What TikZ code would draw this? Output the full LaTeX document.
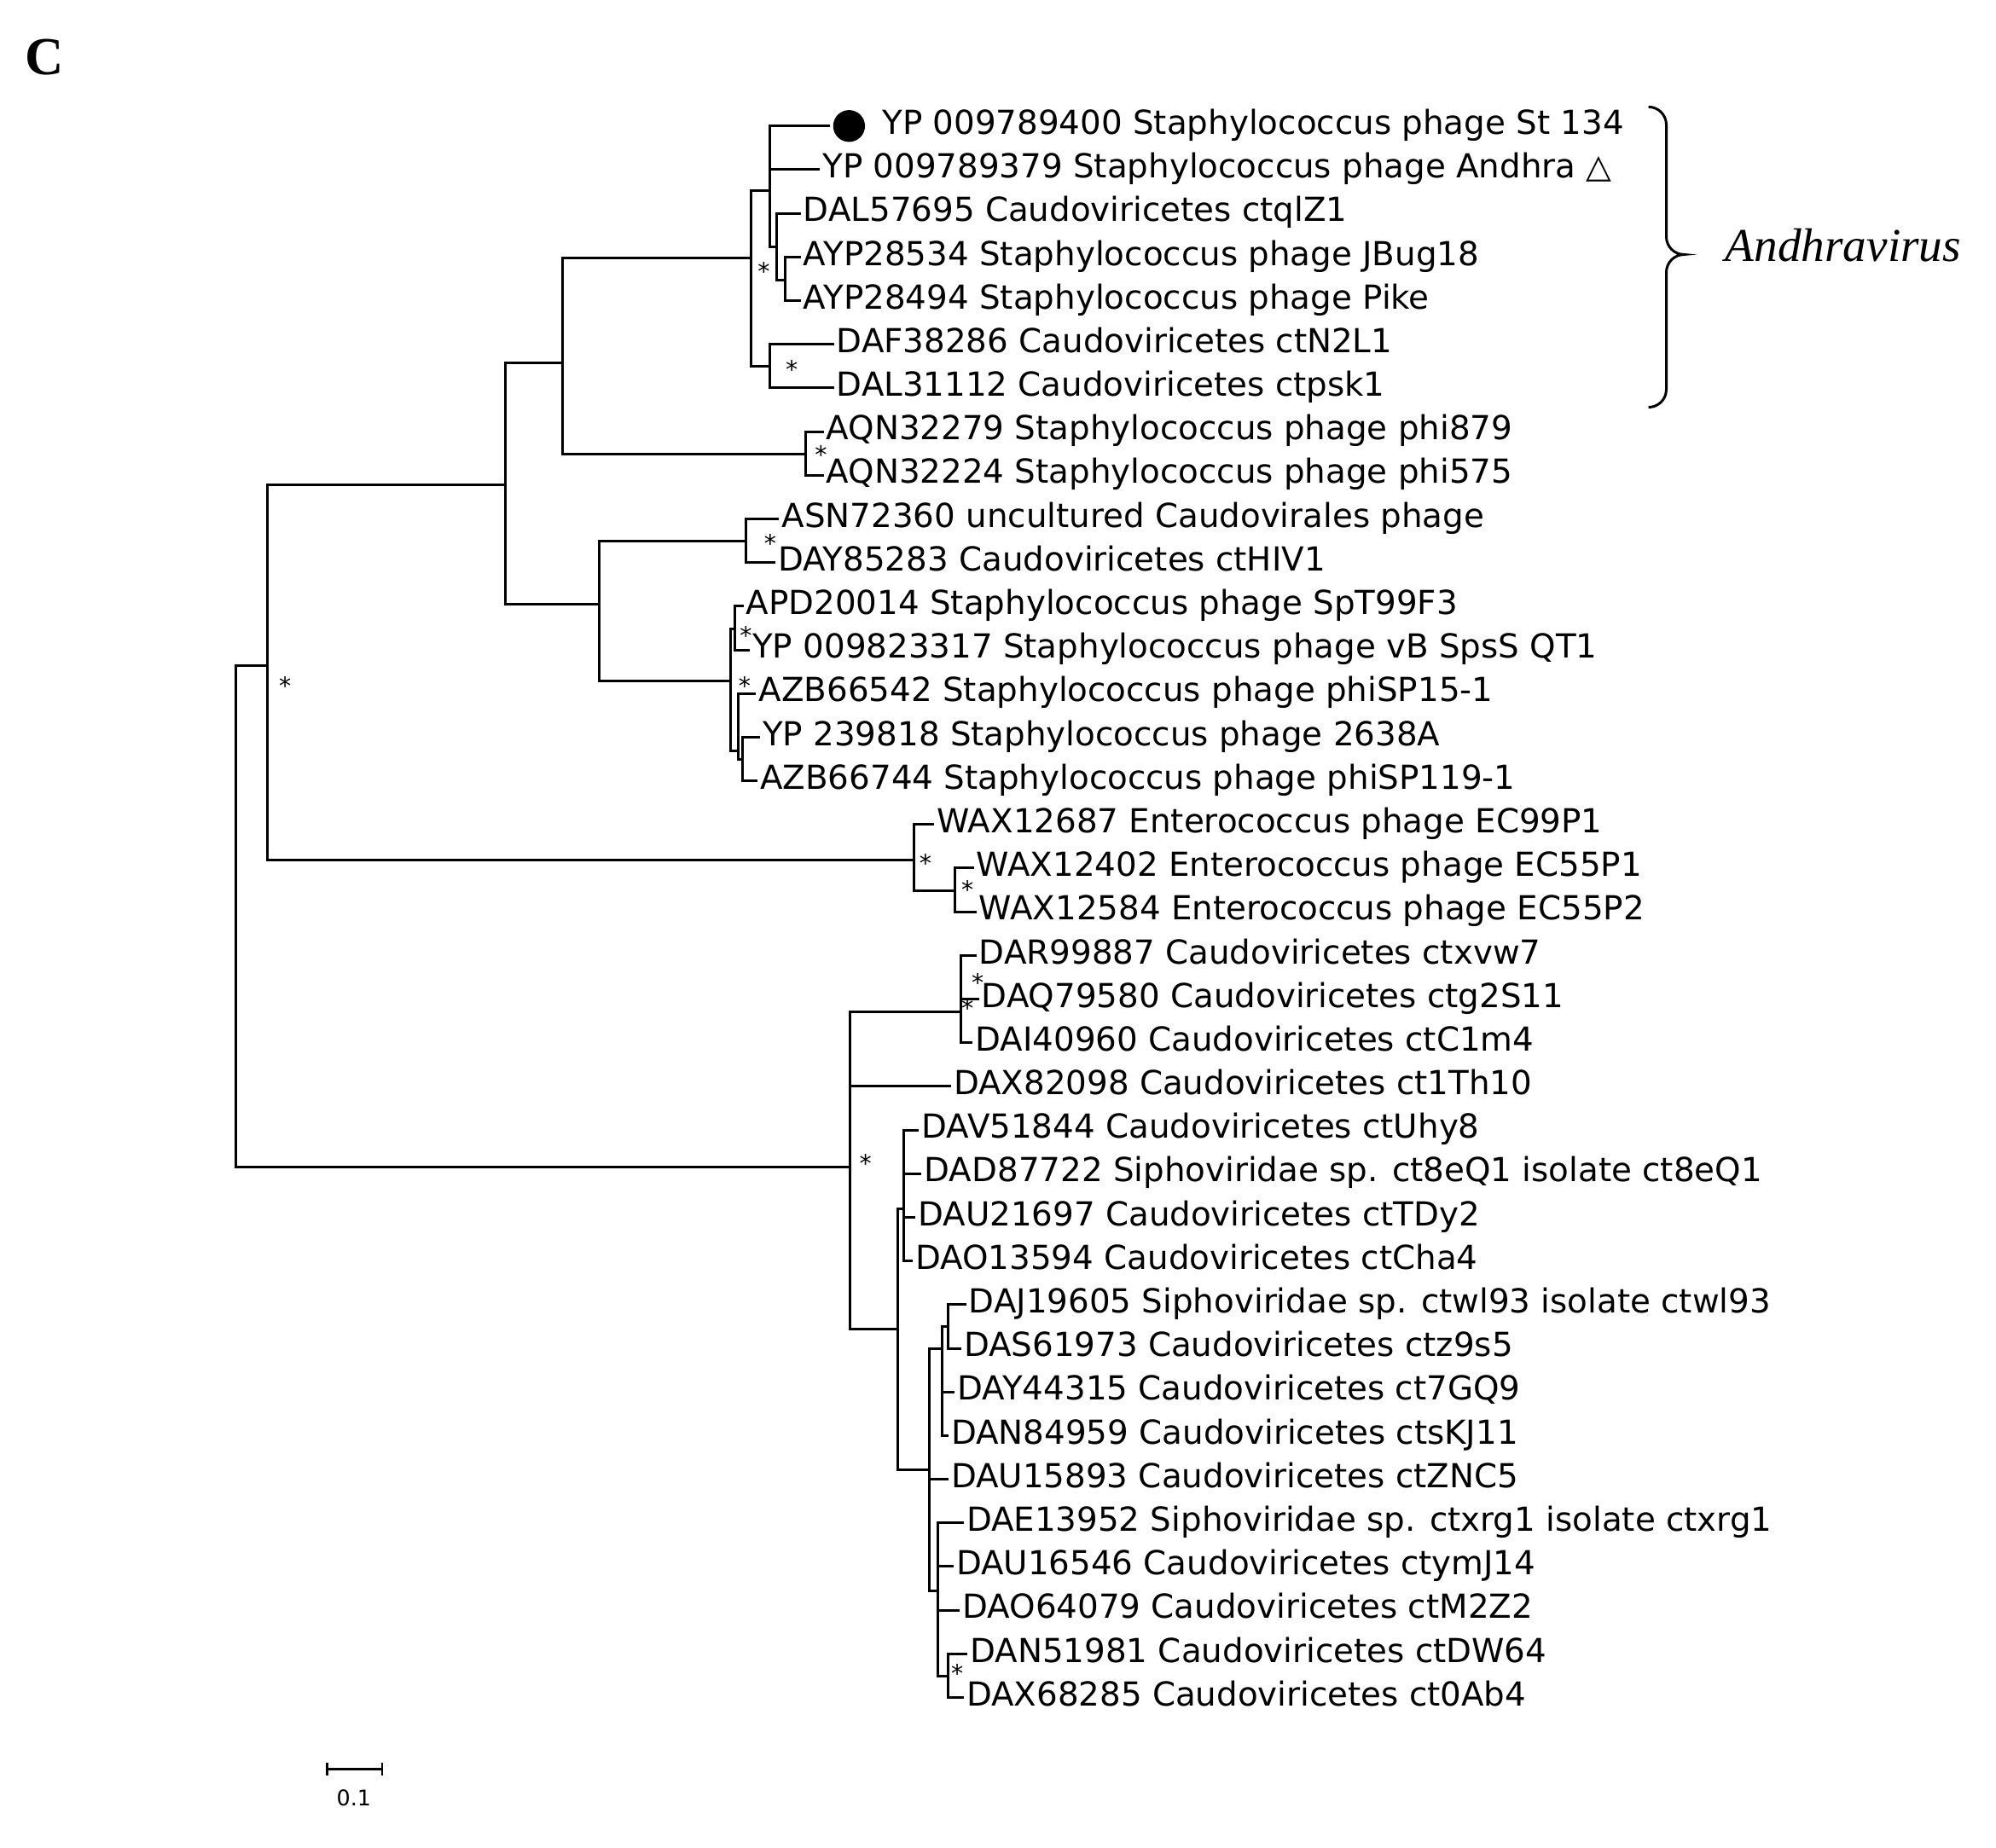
\documentclass[tikz,border=0pt]{standalone}
\usepackage{fontspec}
\setmainfont{DejaVu Sans}
\newfontfamily\serifit{Liberation Serif}
\begin{document}
\begin{tikzpicture}[x=1pt,y=-1pt,
  br/.style={line width=2pt,line cap=rect},
  leaf/.style={anchor=west,inner sep=3pt,text height=1.3em,text depth=0em,font=\fontsize{26}{26}\selectfont},
  st/.style={font=\fontsize{19}{19}\selectfont,inner sep=0pt}]
\useasboundingbox[fill=white] (0,0) rectangle (1568,1452);
\node[font=\serifit\bfseries\fontsize{42}{42}\selectfont] (lblC) at (35,45) {C};
\foreach \i/\x/\t in {
0/690/YP 009789400 Staphylococcus phage St 134,
1/643/YP 009789379 Staphylococcus phage Andhra △,
2/628/DAL57695 Caudoviricetes ctqlZ1,
3/628/AYP28534 Staphylococcus phage JBug18,
4/628/AYP28494 Staphylococcus phage Pike,
5/654/DAF38286 Caudoviricetes ctN2L1,
6/654/DAL31112 Caudoviricetes ctpsk1,
7/646/AQN32279 Staphylococcus phage phi879,
8/646/AQN32224 Staphylococcus phage phi575,
9/611/ASN72360 uncultured Caudovirales phage,
10/608/DAY85283 Caudoviricetes ctHIV1,
11/583/APD20014 Staphylococcus phage SpT99F3,
12/588/YP 009823317 Staphylococcus phage vB SpsS QT1,
13/593/AZB66542 Staphylococcus phage phiSP15-1,
14/596/YP 239818 Staphylococcus phage 2638A,
15/594/AZB66744 Staphylococcus phage phiSP119-1,
16/733/WAX12687 Enterococcus phage EC99P1,
17/764/WAX12402 Enterococcus phage EC55P1,
18/766/WAX12584 Enterococcus phage EC55P2,
19/766/DAR99887 Caudoviricetes ctxvw7,
20/768/DAQ79580 Caudoviricetes ctg2S11,
21/763/DAI40960 Caudoviricetes ctC1m4,
22/746/DAX82098 Caudoviricetes ct1Th10,
23/721/DAV51844 Caudoviricetes ctUhy8,
24/723/DAD87722 Siphoviridae sp. ct8eQ1 isolate ct8eQ1,
25/718/DAU21697 Caudoviricetes ctTDy2,
26/716/DAO13594 Caudoviricetes ctCha4,
27/758/DAJ19605 Siphoviridae sp. ctwl93 isolate ctwl93,
28/754/DAS61973 Caudoviricetes ctz9s5,
29/749/DAY44315 Caudoviricetes ct7GQ9,
30/744/DAN84959 Caudoviricetes ctsKJ11,
31/744/DAU15893 Caudoviricetes ctZNC5,
32/756/DAE13952 Siphoviridae sp. ctxrg1 isolate ctxrg1,
33/748/DAU16546 Caudoviricetes ctymJ14,
34/753/DAO64079 Caudoviricetes ctM2Z2,
35/759/DAN51981 Caudoviricetes ctDW64,
36/756/DAX68285 Caudoviricetes ct0Ab4}
 {\node[leaf] (l\i) at (\x,{99+34.3*\i}) {\t};}
% internal nodes
\coordinate (root) at (185,720);
\coordinate (A) at (210,523); \coordinate (B) at (397,381);
\coordinate (Cn) at (442,285); \coordinate (D) at (590,203);
\coordinate (E) at (605,150); \coordinate (F) at (610,194);
\coordinate (G) at (617,220); \coordinate (H) at (605,288);
\coordinate (I) at (633,357); \coordinate (J) at (471,475);
\coordinate (K) at (586,425); \coordinate (L) at (574,535);
\coordinate (M) at (577,494); \coordinate (N) at (580,590);
\coordinate (O) at (583,597); \coordinate (P) at (718,676);
\coordinate (Q) at (750,700); \coordinate (R) at (668,917);
\coordinate (S) at (755,795); \coordinate (T) at (705,1044);
\coordinate (U) at (710,950); \coordinate (V) at (730,1155);
\coordinate (W) at (740,1060); \coordinate (Y) at (745,1042);
\coordinate (X) at (737,1250); \coordinate (Z) at (745,1317);
\coordinate (dot) at (667,99);
\begin{scope}[br]
\draw (root) |- (A); \draw (root) |- (R);
\draw (A) |- (B); \draw (A) |- (P);
\draw (B) |- (Cn); \draw (B) |- (J);
\draw (Cn) |- (D); \draw (Cn) |- (I);
\draw (D) |- (E); \draw (D) |- (H);
\draw (E) |- ([xshift=-16pt]dot); \draw (E) |- (l1.west); \draw (E) |- (F);
\draw (F) |- (l2.west); \draw (F) |- (G);
\draw (G) |- (l3.west); \draw (G) |- (l4.west);
\draw (H) |- (l5.west); \draw (H) |- (l6.west);
\draw (I) |- (l7.west); \draw (I) |- (l8.west);
\draw (J) |- (K); \draw (J) |- (L);
\draw (K) |- (l9.west); \draw (K) |- (l10.west);
\draw (L) |- (M); \draw (L) |- (N);
\draw (M) |- (l11.west); \draw (M) |- (l12.west);
\draw (N) |- (l13.west); \draw (N) |- (O);
\draw (O) |- (l14.west); \draw (O) |- (l15.west);
\draw (P) |- (l16.west); \draw (P) |- (Q);
\draw (Q) |- (l17.west); \draw (Q) |- (l18.west);
\draw (R) |- (S); \draw (R) |- (l22.west); \draw (R) |- (T);
\draw (S) |- (l19.west); \draw (S) |- (l20.west); \draw (S) |- (l21.west);
\draw (T) |- (U); \draw (T) |- (V);
\draw (U) |- (l23.west); \draw (U) |- (l24.west); \draw (U) |- (l25.west); \draw (U) |- (l26.west);
\draw (V) |- (W); \draw (V) |- (l31.west); \draw (V) |- (X);
\draw (W) |- (Y); \draw (W) |- (l29.west); \draw (W) |- (l30.west);
\draw (Y) |- (l27.west); \draw (Y) |- (l28.west);
\draw (X) |- (l32.west); \draw (X) |- (l33.west); \draw (X) |- (l34.west); \draw (X) |- (Z);
\draw (Z) |- (l35.west); \draw (Z) |- (l36.west);
\end{scope}
\fill (dot) circle (12.5pt);
\foreach \n/\x/\y in {s1/600/213,s2/622/290,s3/645/357,s4/605/427,s5/586/499,s6/585/539,s7/224/539,s8/727/678,s9/760/699,s10/768/772,s11/760/792,s12/680/914,s13/752/1315}
 {\node[st] (\n) at (\x,\y) {*};}
% Andhravirus brace
\draw[line width=2pt] (1295,84) arc[start angle=90,end angle=0,radius=14pt] -- (1309,186) arc[start angle=180,end angle=270,radius=14pt]
  arc[start angle=90,end angle=180,radius=14pt] -- (1309,306) arc[start angle=0,end angle=-90,radius=14pt];
\node[font=\serifit\itshape\fontsize{37}{37}\selectfont] (andh) at (1448,193) {Andhravirus};
% scale bar
\coordinate (sb1) at (257,1390); \coordinate (sb2) at (300,1390);
\draw[line width=1.6pt] (sb1) -- (sb2);
\draw[line width=1.6pt] ([yshift=-5pt]sb1) -- ([yshift=5pt]sb1);
\draw[line width=1.6pt] ([yshift=-5pt]sb2) -- ([yshift=5pt]sb2);
\node[font=\fontsize{17}{17}\selectfont] (sbl) at (278,1413) {0.1};
\end{tikzpicture}
\end{document}
